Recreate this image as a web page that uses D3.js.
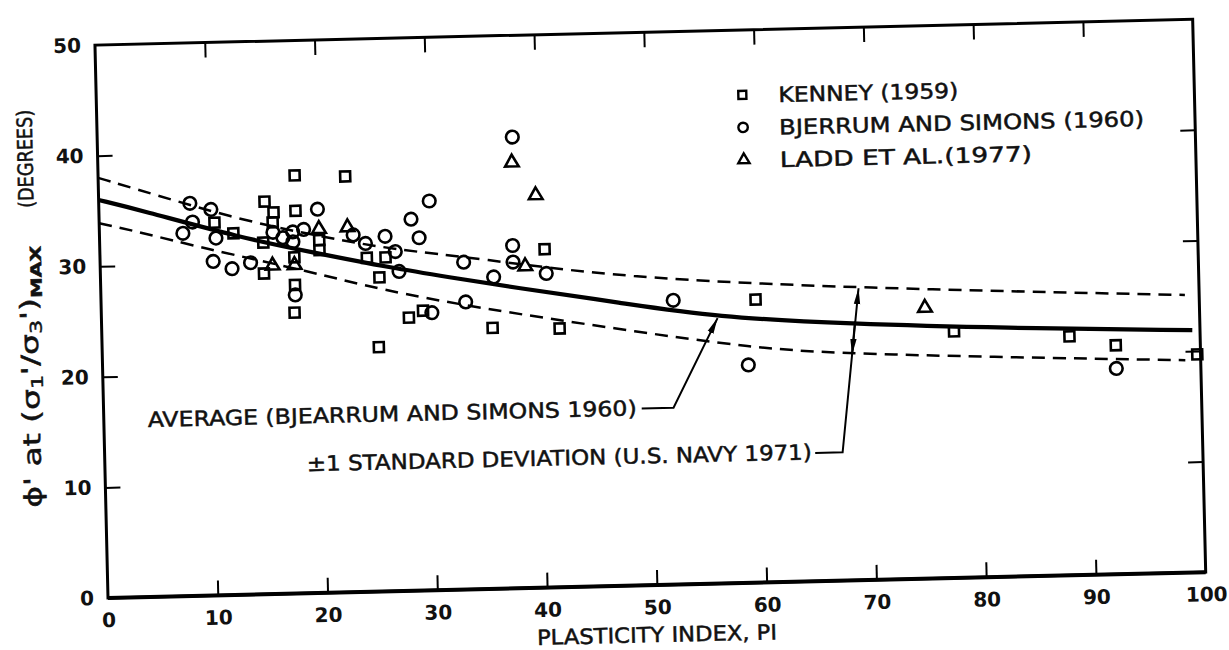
<!DOCTYPE html>
<html>
<head>
<meta charset="utf-8">
<script src="https://cdn.jsdelivr.net/npm/d3@7/dist/d3.min.js"></script>
<style>
  body { margin: 0; background: #fff; }
  svg { display: block; font-family: "DejaVu Sans", "Liberation Sans", sans-serif; }
</style>
</head>
<body>
<svg id="chart" width="1229" height="650"></svg>
<script>
// values: PI (%) and phi' (degrees)
var kenneyPI   = [10.5, 12.2, 14.9, 14.9, 15.1, 15.8, 15.9, 17.6, 17.7, 17.7, 17.9, 17.9, 20.0, 20.0, 22.5, 24.3, 25.2, 25.4, 26.0, 28.0, 29.3, 35.6, 40.5, 41.7, 59.6, 77.6, 88.1, 92.3, 99.7];
var kenneyPhi  = [33.7, 32.7, 31.8, 29.0, 35.5, 33.6, 34.5, 25.4, 30.4, 27.9, 37.8, 34.6, 31.9, 31.0, 37.6, 30.2, 22.1, 28.4, 30.2, 24.7, 25.3, 23.6, 30.6, 23.4, 25.6, 22.3, 21.6, 20.7, 19.7];

var bjerrumPI  = [7.6, 8.3, 8.5, 10.2, 10.3, 10.6, 12.0, 13.7, 15.8, 16.7, 17.6, 17.6, 17.7, 18.6, 19.9, 23.1, 24.2, 26.0, 26.9, 27.2, 28.4, 29.1, 30.1, 30.1, 33.1, 33.2, 35.8, 37.6, 37.6, 37.8, 40.6, 52.1, 58.8, 92.3];
var bjerrumPhi = [32.8, 35.5, 33.8, 34.9, 30.2, 32.3, 29.5, 30.0, 32.7, 32.2, 32.7, 31.8, 27.0, 32.9, 34.7, 32.3, 31.5, 32.1, 30.7, 28.9, 33.6, 31.9, 35.2, 25.1, 29.6, 26.0, 28.2, 31.0, 29.5, 40.8, 28.4, 25.7, 19.7, 18.6];

var laddPI     = [15.7, 17.7, 20.0, 22.6, 37.7, 38.7, 39.8, 75.0];
var laddPhi    = [29.7, 29.7, 32.9, 33.0, 38.5, 29.1, 35.5, 24.5];

// average curve (Bjerrum and Simons) and +/-1 standard deviation band
var averagePI  = [0, 3.75, 12.8, 19.4, 26.7, 31.6, 37.6, 47.3, 55.9, 68.1, 82.0, 99.3];
var averagePhi = [36.0, 35.0, 32.3, 30.8, 29.2, 28.3, 27.2, 25.6, 24.1, 23.2, 22.5, 21.9];
var upperPI    = [0, 4.7, 12.8, 20.7, 26.7, 34.6, 47.0, 68.9, 98.7];
var upperPhi   = [38.0, 36.5, 33.9, 32.1, 30.9, 29.9, 27.9, 26.4, 25.1];
var lowerPI    = [0, 3.7, 9.1, 19.4, 25.4, 34.5, 46.6, 59.3, 68.7, 98.6];
var lowerPhi   = [33.9, 33.0, 31.5, 29.0, 27.3, 25.4, 23.3, 21.2, 20.4, 19.2];

var xTicks = [0, 10, 20, 30, 40, 50, 60, 70, 80, 90, 100];
var yTicks = [0, 10, 20, 30, 40, 50];
var legendNames = ["KENNEY (1959)", "BJERRUM AND SIMONS (1960)", "LADD ET AL.(1977)"];

var svg = d3.select("#chart");
var plotLeft = 108, plotRight = 1206, plotTop = 45, plotBottom = 598;
var tilt = -1.35;   // the scan is a little crooked

var x = d3.scaleLinear().domain([0, 100]).range([plotLeft, plotRight]);
var y = d3.scaleLinear().domain([0, 50]).range([plotBottom, plotTop]);

function zip(a, b) {
    return a.map(function (v, i) { return [v, b[i]]; });
}

svg.append("defs").append("marker")
    .attr("id", "head")
    .attr("viewBox", "0 0 16 8")
    .attr("refX", 16).attr("refY", 4)
    .attr("markerWidth", 16).attr("markerHeight", 8)
    .attr("markerUnits", "userSpaceOnUse")
    .attr("orient", "auto")
    .append("path")
    .attr("d", "M0,0.8 L16,4 L0,7.2 Z")
    .attr("fill", "#000");

var g = svg.append("g")
    .attr("transform", "rotate(" + tilt + "," + plotLeft + "," + plotBottom + ")");

// curves
var line = d3.line()
    .x(function (d) { return x(d[0]); })
    .y(function (d) { return y(d[1]); })
    .curve(d3.curveBasis);

g.append("path").attr("d", line(zip(upperPI, upperPhi)))
    .attr("fill", "none").attr("stroke", "#000").attr("stroke-width", 2.5).attr("stroke-dasharray", "13,8");
g.append("path").attr("d", line(zip(lowerPI, lowerPhi)))
    .attr("fill", "none").attr("stroke", "#000").attr("stroke-width", 2.5).attr("stroke-dasharray", "13,8");
g.append("path").attr("d", line(zip(averagePI, averagePhi)))
    .attr("fill", "none").attr("stroke", "#000").attr("stroke-width", 4.2);

// points
function drawSet(PI, phi, type, size) {
    g.append("g").selectAll("path")
        .data(zip(PI, phi))
        .enter()
        .append("path")
        .attr("transform", function (d) { return "translate(" + x(d[0]) + "," + y(d[1]) + ")"; })
        .attr("d", d3.symbol().type(type).size(size))
        .attr("fill", "none")
        .attr("stroke", "#000")
        .attr("stroke-width", 2.6);
}
drawSet(kenneyPI, kenneyPhi, d3.symbolSquare, 100);
drawSet(bjerrumPI, bjerrumPhi, d3.symbolCircle, 125);
drawSet(laddPI, laddPhi, d3.symbolTriangle, 80);

// frame
g.append("rect")
    .attr("x", plotLeft).attr("y", plotTop)
    .attr("width", plotRight - plotLeft).attr("height", plotBottom - plotTop)
    .attr("fill", "none").attr("stroke", "#000").attr("stroke-width", 3);
g.append("line")
    .attr("x1", plotLeft).attr("x2", plotRight).attr("y1", plotBottom).attr("y2", plotBottom)
    .attr("stroke", "#000").attr("stroke-width", 4);

// inward tick marks on all four sides
var tickIn = 15;
var innerX = xTicks.slice(1, -1), innerY = yTicks.slice(1, -1);
function marks(sel) {
    sel.select(".domain").remove();
    sel.selectAll(".tick line").attr("stroke-width", 2);
}
g.append("g").attr("transform", "translate(0," + plotBottom + ")")
    .call(d3.axisBottom(x).tickValues(innerX).tickSize(-tickIn).tickFormat("")).call(marks);
g.append("g").attr("transform", "translate(0," + plotTop + ")")
    .call(d3.axisTop(x).tickValues(innerX).tickSize(-tickIn).tickFormat("")).call(marks);
g.append("g").attr("transform", "translate(" + plotLeft + ",0)")
    .call(d3.axisLeft(y).tickValues(innerY).tickSize(-tickIn).tickFormat("")).call(marks);
g.append("g").attr("transform", "translate(" + plotRight + ",0)")
    .call(d3.axisRight(y).tickValues(innerY).tickSize(-tickIn).tickFormat("")).call(marks);

// tick labels
var xl = g.append("g").attr("transform", "translate(0," + plotBottom + ")")
    .call(d3.axisBottom(x).tickValues(xTicks).tickSize(0).tickPadding(15));
var yl = g.append("g").attr("transform", "translate(" + plotLeft + ",0)")
    .call(d3.axisLeft(y).tickValues(yTicks).tickSize(0).tickPadding(14));
[xl, yl].forEach(function (a) {
    a.select(".domain").remove();
    a.attr("font-size", 20).attr("font-family", "DejaVu Sans, sans-serif").attr("font-weight", "bold");
    a.selectAll("text").attr("fill", "#111");
});

// lettering on the scan is heavy, so give the texts a thin outline
function inked(t) {
    t.attr("fill", "#111").attr("stroke", "#111").attr("stroke-width", 0.5);
}

// axis titles
g.append("text")
    .attr("x", 536).attr("y", 655)
    .attr("font-size", 21)
    .attr("textLength", 240).attr("lengthAdjust", "spacingAndGlyphs")
    .text("PLASTICITY INDEX, PI")
    .call(inked);

var yt = g.append("text")
    .attr("transform", "translate(44,506) rotate(-90)")
    .attr("font-size", 24)
    .attr("textLength", 262).attr("lengthAdjust", "spacingAndGlyphs")
    .call(inked);
yt.append("tspan").text("\u03D5' at (\u03C3");
yt.append("tspan").attr("baseline-shift", "-25%").attr("font-size", 16).text("1");
yt.append("tspan").text("'/\u03C3");
yt.append("tspan").attr("baseline-shift", "-25%").attr("font-size", 16).text("3");
yt.append("tspan").text("')");
yt.append("tspan").attr("baseline-shift", "-35%").attr("font-size", 15).attr("font-weight", "bold").text("MAX");

g.append("text")
    .attr("transform", "translate(43,206) rotate(-90)")
    .attr("font-size", 21)
    .attr("textLength", 98).attr("lengthAdjust", "spacingAndGlyphs")
    .text("(DEGREES)")
    .call(inked);

// legend
var legendTypes = [d3.symbolSquare, d3.symbolCircle, d3.symbolTriangle];
var legendSizes = [64, 70, 55];
var legendWidths = [180, 365, 252];
var lg = g.append("g").selectAll("g")
    .data(legendNames)
    .enter()
    .append("g")
    .attr("transform", function (d, i) { return "translate(754," + (110 + i * 32.5) + ")"; });
lg.append("path")
    .attr("d", function (d, i) { return d3.symbol().type(legendTypes[i]).size(legendSizes[i])(); })
    .attr("fill", "none").attr("stroke", "#000").attr("stroke-width", 2.4);
lg.append("text")
    .attr("x", 36).attr("y", 8)
    .attr("font-size", 21)
    .attr("textLength", function (d, i) { return legendWidths[i]; })
    .attr("lengthAdjust", "spacingAndGlyphs")
    .text(function (d) { return d; })
    .call(inked);

// notes with leader arrows
var plain = d3.line().x(function (d) { return x(d[0]); }).y(function (d) { return y(d[1]); });

g.append("text")
    .attr("x", 152).attr("y", 428)
    .attr("font-size", 21)
    .attr("textLength", 489).attr("lengthAdjust", "spacingAndGlyphs")
    .text("AVERAGE (BJEARRUM AND SIMONS 1960)")
    .call(inked);
g.append("path")
    .attr("d", plain([[49.0, 16.0], [51.9, 16.0], [56.1, 24.0]]))
    .attr("fill", "none").attr("stroke", "#000").attr("stroke-width", 2)
    .attr("marker-end", "url(#head)");

g.append("text")
    .attr("x", 310).attr("y", 476)
    .attr("font-size", 21)
    .attr("textLength", 505).attr("lengthAdjust", "spacingAndGlyphs")
    .text("\u00B11 STANDARD DEVIATION (U.S. NAVY 1971)")
    .call(inked);
g.append("path")
    .attr("d", plain([[64.7, 11.6], [67.2, 11.6], [69.0, 26.4]]))
    .attr("fill", "none").attr("stroke", "#000").attr("stroke-width", 2)
    .attr("marker-end", "url(#head)");
g.append("path")
    .attr("d", plain([[68.6, 23.4], [68.27, 20.4]]))
    .attr("fill", "none").attr("stroke", "#000").attr("stroke-width", 2)
    .attr("marker-end", "url(#head)");
</script>
</body>
</html>
